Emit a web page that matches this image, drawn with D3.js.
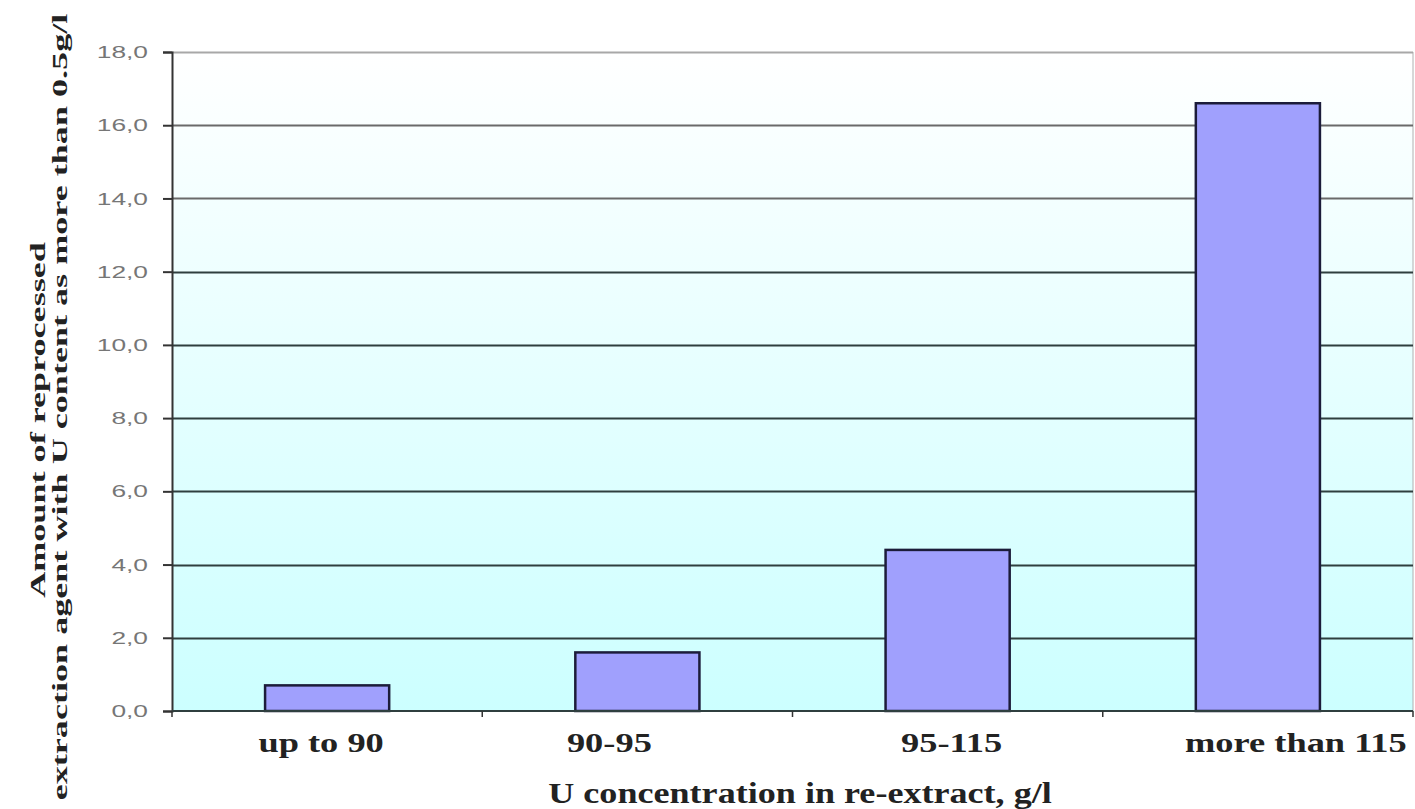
<!DOCTYPE html>
<html>
<head>
<meta charset="utf-8">
<script src="https://cdn.jsdelivr.net/npm/d3@7"></script>
<style>
  html, body { margin: 0; padding: 0; background: #fff; }
  svg { display: block; }
</style>
</head>
<body>
<svg id="chart" width="1415" height="809"></svg>
<script>
// Reprocessed extraction agent by uranium concentration band
const categories = ["up to 90", "90-95", "95-115", "more than 115"];
const values = [0.7, 1.6, 4.4, 16.6];
const yTicks = [0, 2, 4, 6, 8, 10, 12, 14, 16, 18];
const xTitle = "U concentration in re-extract, g/l";
const yTitle1 = "Amount of reprocessed";
const yTitle2 = "extraction agent with U content as more than 0.5g/l";

const svg = d3.select("#chart");
const m = { left: 172, right: 1413, top: 52, bottom: 711 };
const serif = "'Liberation Serif', 'Times New Roman', serif";
const sans = "'Liberation Sans', Arial, sans-serif";

const x = d3.scaleBand().domain(categories).range([m.left, m.right])
  .paddingInner(0.6).paddingOuter(0.3);
const y = d3.scaleLinear().domain([0, 18]).range([m.bottom, m.top]);

// plot-area background: white fading to pale cyan
const defs = svg.append("defs");
const grad = defs.append("linearGradient").attr("id", "bg")
  .attr("x1", 0).attr("y1", 0).attr("x2", 0).attr("y2", 1);
grad.append("stop").attr("offset", "0%").attr("stop-color", "#ffffff");
grad.append("stop").attr("offset", "100%").attr("stop-color", "#ccffff");

svg.append("rect")
  .attr("x", m.left).attr("y", m.top)
  .attr("width", m.right - m.left).attr("height", m.bottom - m.top)
  .attr("fill", "url(#bg)");

// right edge of the plot area
svg.append("line")
  .attr("x1", m.right).attr("x2", m.right)
  .attr("y1", m.top).attr("y2", m.bottom)
  .attr("stroke", "#b0b0b0").attr("stroke-width", 1);

// horizontal gridlines
svg.append("g").selectAll("line")
  .data(yTicks.filter(d => d > 0))
  .join("line")
  .attr("x1", m.left).attr("x2", m.right)
  .attr("y1", d => Math.round(y(d)) + 0.5).attr("y2", d => Math.round(y(d)) + 0.5)
  .attr("stroke", d => d === 18 ? "#a8a8a8" : (d >= 14 ? "#6a6a6a" : "#2f3f3f"))
  .attr("stroke-width", 2);

// y axis (tick marks from the axis generator, labels drawn wide below)
const yAxis = d3.axisLeft(y).tickValues(yTicks).tickSize(9).tickFormat("");
const gy = svg.append("g").attr("transform", `translate(${m.left},0)`).call(yAxis);
gy.select(".domain").attr("stroke", "#333").attr("stroke-width", 2);
gy.selectAll(".tick line").attr("stroke", "#333").attr("stroke-width", 2);

const fmt = d => d3.format(".1f")(d).replace(".", ",");
svg.append("g").selectAll("text")
  .data(yTicks)
  .join("text")
  .attr("transform", d => `translate(148,${y(d)}) scale(1.55,1)`)
  .attr("dy", "0.36em")
  .attr("text-anchor", "end")
  .attr("font-family", sans).attr("font-size", 17).attr("fill", "#767676")
  .text(fmt);

// bars
svg.append("g").selectAll("rect")
  .data(values)
  .join("rect")
  .attr("x", (d, i) => x(categories[i]))
  .attr("y", d => y(d))
  .attr("width", x.bandwidth())
  .attr("height", d => y(0) - y(d))
  .attr("fill", "#a0a0fd")
  .attr("stroke", "#1c1c3a")
  .attr("stroke-width", 2.5);

// x axis line with ticks at category boundaries
svg.append("line")
  .attr("x1", m.left).attr("x2", m.right)
  .attr("y1", m.bottom).attr("y2", m.bottom)
  .attr("stroke", "#2f3f3f").attr("stroke-width", 2);
const step = x.step();
svg.append("g").selectAll("line")
  .data(d3.range(categories.length + 1))
  .join("line")
  .attr("x1", i => m.left + i * step).attr("x2", i => m.left + i * step)
  .attr("y1", m.bottom).attr("y2", m.bottom + 6)
  .attr("stroke", "#333").attr("stroke-width", 1.5);

// category labels (small horizontal nudges keep the long last label clear of the edge)
const labelShift = [-6, -28, 4, 38];
svg.append("g").selectAll("text")
  .data(categories)
  .join("text")
  .attr("transform", (d, i) =>
    `translate(${x(d) + x.bandwidth() / 2 + labelShift[i]},752) scale(1.3,1)`)
  .attr("text-anchor", "middle")
  .attr("font-family", serif).attr("font-weight", "bold")
  .attr("font-size", 28).attr("fill", "#222")
  .text(d => d);

// axis titles
svg.append("text")
  .attr("transform", "translate(800,803) scale(1.245,1)")
  .attr("text-anchor", "middle")
  .attr("font-family", serif).attr("font-weight", "bold")
  .attr("font-size", 29).attr("fill", "#222")
  .text(xTitle);

svg.append("text")
  .attr("transform", "translate(45,420) rotate(-90) scale(1.72,1)")
  .attr("text-anchor", "middle")
  .attr("font-family", serif).attr("font-weight", "bold")
  .attr("font-size", 21).attr("fill", "#222")
  .text(yTitle1);

svg.append("text")
  .attr("transform", "translate(67,407) rotate(-90) scale(1.72,1)")
  .attr("text-anchor", "middle")
  .attr("font-family", serif).attr("font-weight", "bold")
  .attr("font-size", 21).attr("fill", "#222")
  .text(yTitle2);
</script>
</body>
</html>
